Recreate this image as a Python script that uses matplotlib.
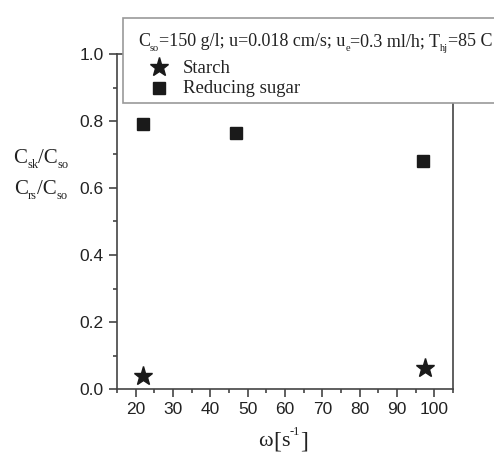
import matplotlib
matplotlib.use("Agg")
import matplotlib.pyplot as plt
from matplotlib.patches import Rectangle
from matplotlib.lines import Line2D
from matplotlib.ticker import MultipleLocator
from matplotlib.transforms import offset_copy

starch_x = [22, 97.5]
starch_y = [0.040, 0.064]
sugar_x = [21.9, 46.9, 96.9]
sugar_y = [0.791, 0.763, 0.681]

xticks = [20, 30, 40, 50, 60, 70, 80, 90, 100]
yticks = [0.0, 0.2, 0.4, 0.6, 0.8, 1.0]

W, H, DPI = 494, 454, 100
fig = plt.figure(figsize=(W / DPI, H / DPI), dpi=DPI)
renderer = fig.canvas.get_renderer()
TXT = '#222222'
SERIF = 'Liberation Serif'


def pieces_text(x_px, y_px, pieces, ha='left', zorder=11):
    """pieces: list of (string, fontsize, dy_points). x_px,y_px: pixel coords (top-left origin), baseline."""
    objs = []
    widths = []
    for s, size, dy in pieces:
        t = fig.text(0, 0, s, fontsize=size, family=SERIF, color=TXT, va='baseline', ha='left', zorder=zorder)
        w = t.get_window_extent(renderer).width * 72.0 / DPI
        objs.append(t)
        widths.append(w)
    total = sum(widths)
    start = 0.0
    if ha == 'center':
        start = -total / 2
    base = fig.transFigure
    fx, fy = x_px / W, 1 - y_px / H
    off = start
    for (s, size, dy), t, w in zip(pieces, objs, widths):
        t.set_position((fx, fy))
        t.set_transform(offset_copy(base, fig=fig, x=off, y=dy, units='points'))
        off += w


ax = fig.add_axes([117 / W, 1 - 389 / H, (453 - 117) / W, (389 - 54) / H])
axcol = '#444444'
ax.plot(starch_x, starch_y, linestyle='none', marker='*', markersize=14, color='#1a1a1a')
ax.plot(sugar_x, sugar_y, linestyle='none', marker='s', markersize=9, color='#1a1a1a')
ax.set_xlim(15, 105)
ax.set_ylim(0, 1.0)
ax.set_xticks(xticks)
ax.set_yticks(yticks)
ax.set_yticklabels([f"{v:.1f}" for v in yticks])
ax.xaxis.set_minor_locator(MultipleLocator(5))
ax.yaxis.set_minor_locator(MultipleLocator(0.1))
for s in ax.spines.values():
    s.set_color(axcol)
    s.set_linewidth(1.2)
ax.tick_params(which='both', direction='out', color=axcol, width=1.2)
ax.tick_params(which='major', length=6, labelsize=12.5, labelcolor='#222222')
ax.tick_params(which='minor', length=3)
for lab in ax.get_xticklabels() + ax.get_yticklabels():
    lab.set_fontfamily('Liberation Sans')

# x label
pieces_text(283, 446, [('\u03c9', 16, 0), ('[', 17, -1), ('s', 16, 0), ('-1', 9, 8), (']', 17, -1)], ha='center')
# y label (two lines)
pieces_text(41, 163, [('C', 15, 0), ('sk', 9, -3.5), ('/C', 15, 0), ('so', 9, -3.5)], ha='center')
pieces_text(41, 194, [('C', 15, 0), ('rs', 9, -3.5), ('/C', 15, 0), ('so', 9, -3.5)], ha='center')

# legend box
rect = Rectangle((123 / W, 1 - 103 / H), 2.0, 85 / H, transform=fig.transFigure,
                 facecolor='white', edgecolor='#999999', linewidth=1.2, zorder=10, clip_on=False)
fig.patches.append(rect)
pieces_text(138, 46, [('C', 13, 0), ('so', 7.5, -3.5), ('=150 g/l; u=0.018 cm/s; u', 13, 0),
                      ('e', 7.5, -3.5), ('=0.3 ml/h; T', 13, 0), ('hj', 7.5, -3.5), ('=85 C', 13, 0)])
fig.lines.append(Line2D([159 / W], [1 - 67 / H], transform=fig.transFigure, marker='*', markersize=14,
                        color='#1a1a1a', linestyle='none', zorder=11))
fig.lines.append(Line2D([159 / W], [1 - 88 / H], transform=fig.transFigure, marker='s', markersize=9,
                        color='#1a1a1a', linestyle='none', zorder=11))
pieces_text(183, 73, [('Starch', 13.5, 0)])
pieces_text(183, 93, [('Reducing sugar', 13.5, 0)])

fig.savefig('out.png', dpi=DPI)
